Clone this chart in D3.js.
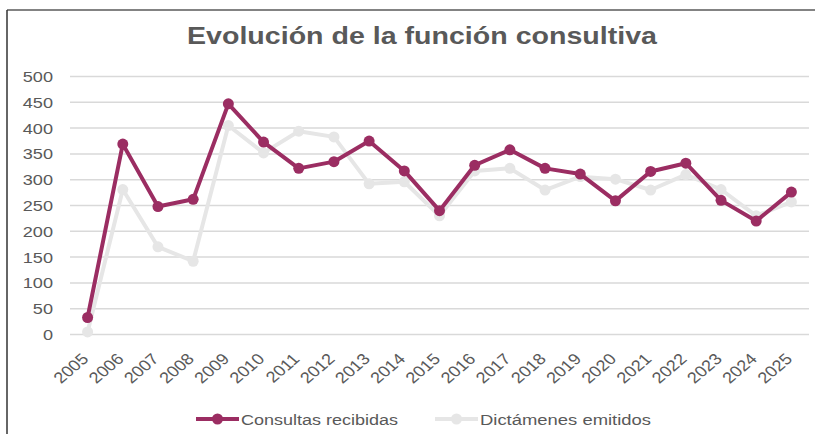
<!DOCTYPE html>
<html>
<head>
<meta charset="utf-8">
<script src="https://cdn.jsdelivr.net/npm/d3@7"></script>
<style>
  body { margin: 0; background: #fff; }
  text { font-family: "Liberation Sans", Arial, sans-serif; fill: #595959; }
  .title { font-size: 24px; font-weight: bold; }
  .tick text { font-size: 15.5px; }
  .legend text { font-size: 15.5px; }
</style>
</head>
<body>
<script>
    const YEARS = ["2005","2006","2007","2008","2009","2010","2011","2012","2013","2014","2015",
                   "2016","2017","2018","2019","2020","2021","2022","2023","2024","2025"];
    const CONSULTAS = [32, 368, 247, 261, 446, 372, 321, 334, 374, 316, 239,
                       327, 357, 321, 310, 258, 315, 331, 259, 219, 275];
    const DICTAMENES = [4, 280, 169, 141, 404, 351, 393, 382, 291, 295, 229,
                        316, 321, 279, 305, 300, 279, 309, 280, 229, 256];
    const Y_TICKS = [0, 50, 100, 150, 200, 250, 300, 350, 400, 450, 500];
    const SERIES_NAMES = ["Consultas recibidas", "Dictámenes emitidos"];

    const CANVAS = { WIDTH: 815, HEIGHT: 434 };
    const PLOT = { LEFT: 70, RIGHT: 809, TOP: 76, BOTTOM: 334 };
    const COLORS = ["#9b2d62", "#e6e6e6"];
    const STRETCH = 1.17; // the reference text is a bit wider than Liberation Sans

    var svg = d3.select("body")
        .append("svg")
        .attr("width", CANVAS.WIDTH)
        .attr("height", CANVAS.HEIGHT);

    // chart frame (only top and left edges are visible)
    svg.append("line")
        .attr("x1", 7).attr("y1", 10).attr("x2", CANVAS.WIDTH).attr("y2", 10)
        .attr("stroke", "#5a5a5a").attr("stroke-width", 1.5);
    svg.append("line")
        .attr("x1", 7).attr("y1", 10).attr("x2", 7).attr("y2", CANVAS.HEIGHT)
        .attr("stroke", "#333").attr("stroke-width", 1.5);

    // title
    svg.append("text")
        .attr("class", "title")
        .attr("x", 187)
        .attr("y", 44)
        .attr("textLength", 470)
        .attr("lengthAdjust", "spacingAndGlyphs")
        .text("Evolución de la función consultiva");

    var x = d3.scaleBand()
        .domain(YEARS)
        .range([PLOT.LEFT, PLOT.RIGHT]);

    var y = d3.scaleLinear()
        .domain([0, 500])
        .range([PLOT.BOTTOM, PLOT.TOP]);

    var cx = function(d, i) { return x(YEARS[i]) + x.bandwidth() / 2; };

    // y axis with gridlines
    var axisY = svg.append("g")
        .attr("transform", "translate(" + PLOT.LEFT + ",0)")
        .call(d3.axisLeft(y)
            .tickValues(Y_TICKS)
            .tickSize(-(PLOT.RIGHT - PLOT.LEFT)));
    axisY.select(".domain").remove();
    axisY.selectAll(".tick line")
        .attr("stroke", "#d9d9d9")
        .attr("stroke-width", 1.5);
    axisY.selectAll(".tick text")
        .attr("x", 0)
        .attr("dy", "0.36em")
        .attr("transform", "translate(-17,0) scale(" + STRETCH + ",1)");

    // x axis labels
    var axisX = svg.append("g")
        .attr("transform", "translate(0," + PLOT.BOTTOM + ")")
        .call(d3.axisBottom(x).tickSize(0));
    axisX.select(".domain").remove();
    axisX.selectAll(".tick text")
        .attr("text-anchor", "end")
        .attr("y", 0)
        .attr("dy", 0)
        .attr("transform", "translate(2,26) scale(" + STRETCH + ",1) rotate(-45)");

    // series
    var seriesData = [CONSULTAS, DICTAMENES];
    var line = d3.line()
        .x(cx)
        .y(function(d) { return y(d); });

    // draw gray series first, purple on top
    [1, 0].forEach(function(s) {
        var g = svg.append("g");
        g.append("path")
            .datum(seriesData[s])
            .attr("fill", "none")
            .attr("stroke", COLORS[s])
            .attr("stroke-width", 4)
            .attr("stroke-linejoin", "round")
            .attr("d", line);
        g.selectAll("circle")
            .data(seriesData[s])
            .enter()
            .append("circle")
            .attr("cx", cx)
            .attr("cy", function(d) { return y(d); })
            .attr("r", 5.5)
            .attr("fill", COLORS[s]);
    });

    // legend
    var legend = svg.append("g").attr("class", "legend");
    var LEGEND_X = [196, 435];
    var LEGEND_TEXT_W = [157, 171];
    SERIES_NAMES.forEach(function(name, i) {
        var item = legend.append("g")
            .attr("transform", "translate(" + LEGEND_X[i] + ",419)");
        item.append("line")
            .attr("x1", 0).attr("x2", 43)
            .attr("stroke", COLORS[i])
            .attr("stroke-width", 4);
        item.append("circle")
            .attr("cx", 21.5)
            .attr("r", 5.5)
            .attr("fill", COLORS[i]);
        item.append("text")
            .attr("x", 45)
            .attr("y", 5.5)
            .attr("textLength", LEGEND_TEXT_W[i])
            .attr("lengthAdjust", "spacingAndGlyphs")
            .text(name);
    });
</script>
</body>
</html>
